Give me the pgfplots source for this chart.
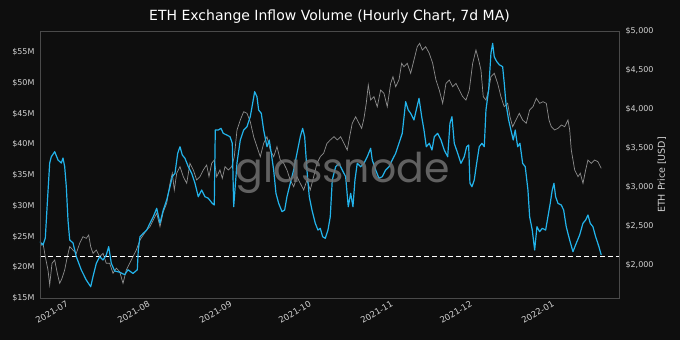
\documentclass[border=0pt]{standalone}
\usepackage{pgfplots}
\pgfplotsset{compat=1.18}
\usepackage{fontspec}
\setmainfont{DejaVu Sans}
\newfontfamily\wmfont{Poppins}
\definecolor{bg}{HTML}{0E0E0E}
\definecolor{inflow}{HTML}{22B4EC}
\definecolor{price}{HTML}{8E8E8E}
\definecolor{ticktext}{HTML}{D2D2D2}
\definecolor{framec}{HTML}{4A4A4A}
\definecolor{wm}{HTML}{707070}
\pgfplotsset{
  common/.style={
    at={(40pt,42pt)}, scale only axis, width=579pt, height=267pt,
    xmin=-11.36, xmax=207.88,
    major tick length=0pt,
    tick label style={font=\fontsize{8}{9}\selectfont, text=ticktext},
    axis line style={framec, line width=0.8pt},
  }
}
\begin{document}
\begin{tikzpicture}
\path[use as bounding box, fill=bg] (0,0) rectangle (680pt,340pt);
% price axis (right)
\begin{axis}[common,
  ymin=1577, ymax=5000,
  axis y line*=right, axis x line=none,
  ytick={2000,2500,3000,3500,4000,4500,5000},
  yticklabels={{\$2,000},{\$2,500},{\$3,000},{\$3,500},{\$4,000},{\$4,500},{\$5,000}},
  yticklabel style={anchor=west, xshift=3pt},
]
\addplot[price, line width=0.7pt, mark=none] coordinates {
(-11.47,2235) (-10.22,2278) (-9.35,2106) (-8.33,1936) (-7.69,1744) (-6.81,2022) (-5.79,2064) (-4.81,1894) (-3.90,1765) (-3.03,1829) (-2.01,1936) (-1.02,2106) (-0.11,2235) (1.14,2192) (2.39,2150) (3.67,2278) (4.92,2363) (6.17,2342) (7.08,2385) (7.84,2235) (8.71,2150) (9.96,2192) (11.24,2106) (12.49,2150) (13.74,2022) (15.03,2022) (16.28,1894) (17.53,1958) (18.82,1914) (20.07,1765) (21.32,1936) (22.60,2022) (23.85,2106) (25.10,2192)
(26.50,2321) (27.75,2385) (29.04,2449) (30.29,2491) (31.54,2577) (32.83,2663) (34.07,2491) (35.32,2683) (36.61,2791) (37.86,3047) (38.73,3176) (39.49,2962) (40.40,3176) (41.65,3260) (42.90,3132) (44.19,3047) (45.43,3304) (46.68,3218) (47.97,3090) (49.22,3132) (50.47,3218) (51.75,3282) (52.63,3132) (53.65,3304) (54.63,3346) (55.54,3132) (56.79,3218) (57.66,3111) (58.69,3260) (59.94,3218) (61.22,3260) (62.21,3388)
(63.23,3731) (64.48,3859) (65.76,3965) (67.01,3945) (68.26,3837) (69.55,3645) (70.79,3517) (72.05,3388) (73.33,3560) (74.58,3645) (75.84,3474) (77.12,3388) (78.37,3517) (79.62,3346) (80.91,3304) (82.15,3218) (83.40,3090) (84.69,3004) (85.94,3132) (87.19,3047) (88.48,2962) (89.72,3090) (90.97,2962) (92.26,3132) (93.51,3304) (94.76,3388) (96.05,3432) (97.30,3560) (98.55,3603)
(99.95,3645) (101.20,3603) (102.48,3645) (103.73,3560) (104.98,3474) (105.89,3645) (106.88,3817) (108.17,3901) (109.42,3817) (110.44,3752) (111.31,3881) (112.18,4073) (112.94,4308) (113.84,4115) (115.09,4158) (116.34,4029) (117.63,4244) (118.88,4201) (120.13,4029) (121.42,4329) (122.29,4414) (123.31,4286) (124.56,4372) (125.58,4586) (126.45,4542) (127.70,4586) (128.99,4458) (130.24,4628) (131.49,4799) (132.40,4842) (133.39,4756) (134.67,4799)
(136.04,4714) (137.32,4586) (138.57,4372) (139.82,4244) (141.11,4073) (142.36,4329) (143.61,4372) (144.90,4286) (146.15,4329) (147.40,4244) (148.69,4158) (149.94,4115) (151.19,4244) (152.47,4586) (153.72,4756) (154.74,4628) (155.61,4500) (156.48,4158) (157.50,4115) (158.52,4244) (159.39,4414) (160.64,4458) (161.93,4329) (163.18,4158) (164.43,4029) (165.72,4073) (166.59,3901) (167.61,3773) (168.86,3859) (170.11,3945) (171.39,3859)
(172.76,3817) (174.04,3987) (175.31,4029) (176.56,4137) (177.85,4073) (179.10,4094) (180.35,4073) (181.37,3859) (182.24,3773) (183.53,3731) (184.78,3752) (186.03,3795) (187.31,3773) (188.56,3859) (189.21,3731) (189.81,3474) (191.10,3218) (192.35,3132) (193.22,3176) (194.24,3047) (195.25,3218) (196.12,3346) (197.37,3304) (198.65,3346) (199.90,3324) (201.15,3240)
};
\end{axis}
% inflow axis (left)
\begin{axis}[common,
  ymin=15, ymax=58.49,
  axis y line*=left, axis x line*=bottom,
  ytick={15,20,25,30,35,40,45,50,55},
  yticklabels={\$15M,\$20M,\$25M,\$30M,\$35M,\$40M,\$45M,\$50M,\$55M},
  yticklabel style={anchor=east, xshift=-2pt},
  xtick={0,31,62,92,123,153,184},
  xticklabels={2021-07,2021-08,2021-09,2021-10,2021-11,2021-12,2022-01},
  xticklabel style={rotate=30, anchor=north east, inner sep=1pt, xshift=-4pt, yshift=1pt, font=\fontsize{8.5}{10}\selectfont},
]
\addplot[white, line width=1pt, dash pattern=on 5pt off 3pt, mark=none] coordinates {(-11.36,21.8) (207.88,21.8)};
\addplot[inflow, line width=1.2pt, mark=none, line join=round] coordinates {
(-11.47,24.17) (-10.22,23.63) (-9.35,24.77) (-8.59,30.47) (-7.69,36.99) (-7.08,38.01) (-5.79,38.83) (-4.54,37.48) (-3.29,36.99) (-2.65,37.80) (-2.01,36.38) (-1.40,33.13) (-0.76,27.70) (-0.11,24.45) (1.14,23.96) (2.39,21.73) (4.28,19.56) (6.17,17.93) (7.84,16.84) (8.71,18.47) (9.96,20.65) (11.24,21.73) (12.49,21.19) (13.74,22.00) (14.65,23.36) (15.64,20.65) (16.92,19.4) (18.82,19.2) (20.71,18.8) (21.96,19.6) (23.85,19.0) (25.48,19.6)
(25.86,22.82) (26.50,24.98) (27.75,25.54) (29.04,26.07) (30.29,27.17) (31.54,28.24) (32.83,29.61) (34.07,27.17) (35.32,29.33) (36.61,30.96) (37.86,33.13) (38.73,34.76) (39.75,35.31) (40.78,38.57) (41.65,39.64) (42.52,38.29) (43.54,37.75) (44.79,36.38) (46.08,35.31) (47.33,33.68) (48.57,31.50) (49.86,32.59) (51.11,31.50) (52.36,31.24) (53.87,30.42) (54.63,30.15) (55.01,42.36) (56.15,42.36) (57.17,42.64) (58.04,41.82) (59.33,41.55) (60.58,41.27) (61.45,40.20) (61.98,29.87)
(63.23,36.99) (64.48,40.73) (65.76,42.36) (67.01,42.90) (68.26,44.53) (69.16,46.71) (69.92,48.60) (70.79,47.79) (71.43,45.62) (72.42,45.08) (73.33,42.36) (74.58,39.64) (75.45,40.73) (76.21,38.57) (77.12,35.85) (77.99,32.05) (79.01,30.42) (80.26,29.06) (81.28,29.33) (82.15,31.50) (83.40,33.68) (84.69,35.85) (85.94,38.57) (87.19,41.27) (88.09,42.64) (88.85,41.27) (89.72,35.85) (90.60,31.50) (91.62,29.33) (92.87,27.17) (93.89,26.07) (94.76,26.35) (95.67,24.98) (96.66,24.72) (97.68,26.07) (98.55,28.24)
(99.31,34.22) (100.59,36.38) (101.84,36.94) (103.09,35.85) (104.38,34.76) (105.36,29.87) (106.27,32.05) (107.14,29.87) (107.90,34.22) (108.77,36.94) (110.06,36.38) (111.31,36.94) (112.56,38.01) (113.84,39.38) (114.45,37.48) (115.74,35.85) (116.99,34.50) (118.24,34.76) (119.53,35.85) (120.78,36.38) (122.03,37.48) (123.31,38.57) (124.56,40.20) (125.81,41.82) (127.10,46.97) (128.08,45.62) (128.99,45.08) (130.24,43.99) (131.11,45.62) (132.15,47.52) (133.17,44.53) (134.04,42.36) (134.91,39.64)
(136.04,40.20) (137.07,39.10) (137.94,41.27) (139.23,41.82) (140.47,40.73) (141.72,39.10) (143.01,38.01) (143.87,43.45) (144.63,44.53) (145.50,40.20) (146.79,38.57) (148.03,36.94) (149.28,38.01) (150.19,39.64) (150.95,39.92) (151.44,33.68) (152.20,33.13) (153.07,34.22) (153.98,36.94) (154.96,39.64) (155.99,40.20) (156.86,39.64) (157.50,45.62) (158.52,48.88) (159.39,54.85) (160.04,56.48) (160.64,54.30) (161.55,53.53) (162.53,53.00) (163.82,52.67) (164.43,49.97) (165.07,46.71) (166.09,43.99) (166.96,42.36) (167.83,40.73) (168.59,42.36) (169.50,39.64) (170.37,40.20) (171.39,36.94) (172.38,36.38)
(173.40,32.59) (174.04,28.24) (175.03,26.07) (175.94,22.82) (176.81,26.61) (177.83,25.80) (178.82,26.35) (180.10,26.07) (180.97,28.24) (181.84,30.42) (182.60,32.59) (183.24,33.68) (183.89,31.50) (184.76,30.42) (186.01,30.15) (186.92,29.33) (187.90,26.61) (189.19,24.45) (190.44,22.54) (191.69,23.91) (192.98,25.26) (194.23,27.17) (195.25,27.70) (196.12,28.52) (196.99,27.17) (198.01,26.61) (199.03,24.98) (200.28,23.36) (201.15,22.00)
};
\end{axis}
% frame on top
\draw[framec, line width=0.8pt] (40pt,42pt) rectangle (619pt,309pt);
% watermark
\node[anchor=base, text=wm, opacity=0.85, inner sep=0pt, font=\wmfont\fontsize{41}{41}\selectfont] at (342.5pt,157pt) {glassnode};
% title and right label
\node[text=white, font=\fontsize{14}{16}\selectfont] at (329.5pt,323pt) {ETH Exchange Inflow Volume (Hourly Chart, 7d MA)};
\node[text=ticktext, rotate=90, font=\fontsize{9.5}{11}\selectfont] at (662pt,165pt) {ETH Price [USD]};
\end{tikzpicture}
\end{document}
